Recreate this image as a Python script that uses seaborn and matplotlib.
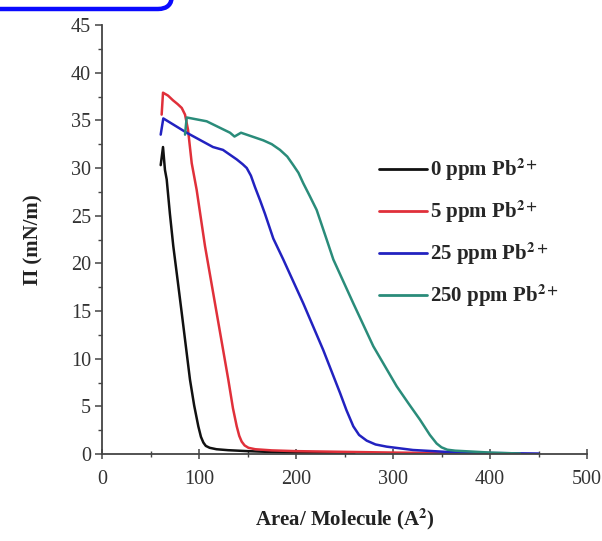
import numpy as np
import pandas as pd
import matplotlib
matplotlib.use("Agg")
import matplotlib.pyplot as plt
import matplotlib.patches as mpatches
from matplotlib.transforms import IdentityTransform
from matplotlib.ticker import MultipleLocator
import seaborn as sns

# ---- data ----
x_0ppm = [60.5, 62.9, 64.9, 66.7, 70.0, 73.5, 78.0, 82.2, 90.7, 95.0, 99.3, 102.0, 104.5, 107.0,
          111.0, 118.0, 130.0, 150.0, 200.0, 260.0]
y_0ppm = [30.3, 32.2, 29.8, 28.8, 25.2, 21.8, 18.2, 14.8, 7.8, 5.1, 2.9, 1.8, 1.2, 0.85,
          0.65, 0.5, 0.4, 0.3, 0.12, 0.05]

x_5ppm = [61.5, 62.9, 68.0, 73.2, 78.0, 82.2, 85.6, 88.7, 92.5, 97.6, 106.2, 118.2, 130.2, 135.0,
          138.9, 141.5, 144.0, 147.0, 151.0, 158.0, 175.0, 200.0, 300.0, 400.0]
y_5ppm = [35.6, 37.9, 37.6, 37.1, 36.7, 36.3, 35.6, 34.0, 30.5, 27.7, 21.8, 14.8, 7.8, 4.8,
          2.9, 1.9, 1.3, 0.9, 0.65, 0.5, 0.38, 0.3, 0.15, 0.05]

x_25ppm = [60.5, 63.2, 87.3, 114.4, 124.7, 138.9, 145.0, 149.2, 153.5, 157.7, 163.0, 168.0, 176.6,
           186.9, 207.5, 228.1, 245.4, 252.0, 259.1, 265.0, 272.9, 282.0, 293.5, 320.6, 358.8,
           400.0, 450.0]
y_25ppm = [33.5, 35.2, 33.7, 32.2, 31.9, 30.9, 30.4, 30.0, 29.2, 28.0, 26.6, 25.2, 22.6,
           20.4, 15.8, 10.9, 6.4, 4.6, 2.9, 2.0, 1.4, 1.0, 0.77, 0.42, 0.2,
           0.1, 0.05]

x_250ppm = [85.6, 87.3, 107.9, 132.0, 136.6, 143.3, 157.7, 166.3, 175.0, 183.5, 191.0, 197.2, 202.5,
            207.5, 214.0, 221.3, 231.6, 238.5, 259.1, 279.7, 303.8, 316.0, 327.8, 338.0, 345.0,
            350.0, 356.0, 364.0, 400.0, 431.0]
y_250ppm = [33.5, 35.3, 34.9, 33.7, 33.3, 33.7, 33.2, 32.9, 32.5, 31.9, 31.2, 30.3, 29.5,
            28.4, 27.1, 25.6, 22.5, 20.4, 15.8, 11.3, 7.1, 5.3, 3.6, 2.0, 1.1,
            0.7, 0.45, 0.35, 0.15, 0.05]

labels = [r"0 ppm Pb$^{\mathbf{2+}}$", r"5 ppm Pb$^{\mathbf{2+}}$",
          r"25 ppm Pb$^{\mathbf{2+}}$", r"250 ppm Pb$^{\mathbf{2+}}$"]
colors = ["#111111", "#e0303a", "#2222c0", "#2a8c7a"]

x_ticks = [0, 100, 200, 300, 400, 500]
y_ticks = [0, 5, 10, 15, 20, 25, 30, 35, 40, 45]

series = [(x_0ppm, y_0ppm), (x_5ppm, y_5ppm), (x_25ppm, y_25ppm), (x_250ppm, y_250ppm)]
frames = []
for lab, (xs, ys) in zip(labels, series):
    frames.append(pd.DataFrame({"area": xs, "pi": ys, "sample": lab}))
df = pd.concat(frames, ignore_index=True)

# ---- style ----
sns.set_style("ticks")
plt.rcParams["font.family"] = ["Liberation Serif", "DejaVu Serif"]
plt.rcParams["mathtext.fontset"] = "stix"

fig = plt.figure(figsize=(6.02, 5.41), dpi=100)
ax = fig.add_axes([102 / 602, 1 - 454 / 541, 485 / 602, 429 / 541])

sns.lineplot(data=df, x="area", y="pi", hue="sample", palette=colors, sort=False,
             estimator=None, linewidth=1.8, ax=ax)

ax.set_xlim(0, 500)
ax.set_ylim(0, 45)
ax.set_xticks(x_ticks)
ax.set_yticks(y_ticks)
ax.xaxis.set_minor_locator(MultipleLocator(50))
ax.yaxis.set_minor_locator(MultipleLocator(2.5))
ax.tick_params(axis="x", which="major", direction="inout", length=7, width=1.1,
               color="#444444", labelsize=14.5, labelcolor="#333333", pad=8)
ax.tick_params(axis="x", which="minor", direction="inout", length=4, width=1.0, color="#444444")
ax.tick_params(axis="y", which="major", direction="out", length=5, width=1.1,
               color="#444444", labelsize=14.5, labelcolor="#333333", pad=3)
ax.tick_params(axis="y", which="minor", direction="out", length=3, width=1.0, color="#444444")
for s in ["top", "right"]:
    ax.spines[s].set_visible(False)
for s in ["left", "bottom"]:
    ax.spines[s].set_linewidth(1.3)
    ax.spines[s].set_color("#444444")

ax.set_xlabel(r"Area/ Molecule (A$^{\mathbf{2}}$)", fontsize=15, fontweight="bold",
              color="#222222", labelpad=13)
ax.set_ylabel(r"Π (mN/m)", fontsize=15, fontweight="bold", color="#222222", labelpad=20)

leg = ax.legend(loc="upper left", bbox_to_anchor=(0.571, 0.693), frameon=False,
                borderpad=0, borderaxespad=0,
                handlelength=2.3, handletextpad=0.15, labelspacing=0.75,
                prop={"family": "Liberation Serif", "weight": "bold", "size": 15})
for line in leg.get_lines():
    line.set_linewidth(2.0)

# blue rounded frame fragment at the top-left corner of the image
box = mpatches.FancyBboxPatch((-40, 532), 212, 60,
                              boxstyle="round,pad=0,rounding_size=14",
                              transform=IdentityTransform(), fill=False,
                              edgecolor="#0a0aff", linewidth=3.2, clip_on=False)
fig.patches.append(box)

fig.savefig("out.png", dpi=100)
